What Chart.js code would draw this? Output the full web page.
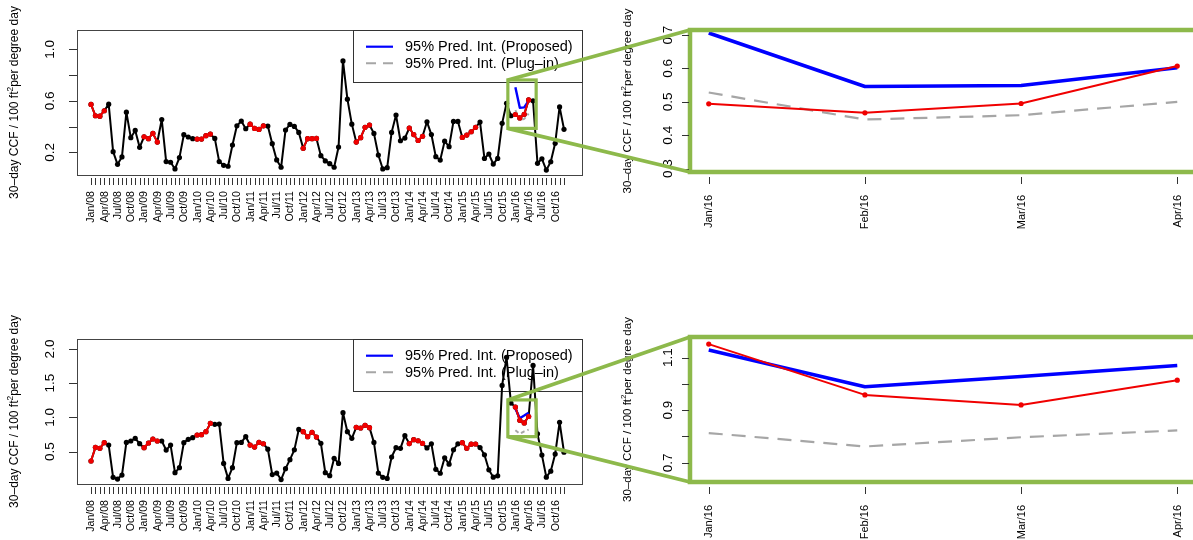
<!DOCTYPE html>
<html><head><meta charset="utf-8">
<script src="https://cdn.jsdelivr.net/npm/chart.js@4/dist/chart.umd.min.js"></script>
<style>
html,body{margin:0;padding:0;background:#fff;overflow:hidden;}
#wrap{position:relative;width:1193px;height:540px;overflow:hidden;background:#fff;}
canvas{position:absolute;}
</style></head><body>
<div id="wrap">
<canvas id="c1" width="600" height="300" style="left:0px;top:0px"></canvas>
<canvas id="c2" width="620" height="300" style="left:590px;top:0px"></canvas>
<canvas id="c3" width="600" height="240" style="left:0px;top:300px"></canvas>
<canvas id="c4" width="620" height="240" style="left:590px;top:300px"></canvas>
<canvas id="ov" width="1193" height="540" style="left:0px;top:0px;pointer-events:none"></canvas>
</div>
<script>
// ---------------- DATA ----------------
const monthNames = ['Jan','Feb','Mar','Apr','May','Jun','Jul','Aug','Sep','Oct','Nov','Dec'];
const years = ['08','09','10','11','12','13','14','15','16'];
const months = [];
years.forEach(y => monthNames.forEach(m => months.push(m + '/' + y)));
const zoomMonths = ['Jan/16','Feb/16','Mar/16','Apr/16'];
const highlightMonths = ['Jan','Feb','Mar','Apr'];   // plotted in red
const zoomStart = 96;                                  // Jan/16

const usageTop = [
 0.572,0.484,0.481,0.523,0.574,0.205,0.107,0.164,0.512,0.314,0.370,0.239,
 0.321,0.306,0.347,0.280,0.455,0.128,0.123,0.071,0.159,0.337,0.319,0.306,
 0.303,0.303,0.329,0.342,0.308,0.128,0.099,0.092,0.257,0.406,0.443,0.383,
 0.419,0.386,0.378,0.406,0.404,0.267,0.141,0.084,0.373,0.417,0.401,0.355,
 0.231,0.306,0.306,0.308,0.174,0.133,0.112,0.084,0.241,0.910,0.613,0.419,
 0.280,0.314,0.394,0.412,0.347,0.179,0.071,0.081,0.355,0.489,0.290,0.311,
 0.389,0.338,0.292,0.325,0.437,0.338,0.166,0.140,0.287,0.244,0.440,0.440,
 0.316,0.334,0.360,0.394,0.435,0.153,0.187,0.109,0.153,0.425,0.581,0.484,
 0.494,0.467,0.495,0.607,0.600,0.115,0.150,0.062,0.127,0.270,0.553,0.379];
const usageBottom = [
 0.364,0.563,0.549,0.632,0.597,0.125,0.100,0.159,0.636,0.656,0.695,0.617,
 0.558,0.627,0.685,0.656,0.656,0.524,0.597,0.193,0.266,0.632,0.680,0.705,
 0.744,0.749,0.792,0.914,0.900,0.904,0.329,0.110,0.266,0.632,0.636,0.719,
 0.597,0.568,0.636,0.616,0.537,0.165,0.187,0.093,0.252,0.384,0.527,0.825,
 0.792,0.719,0.783,0.714,0.622,0.193,0.149,0.403,0.329,1.070,0.792,0.695,
 0.856,0.846,0.885,0.851,0.636,0.188,0.125,0.110,0.422,0.558,0.549,0.734,
 0.618,0.675,0.660,0.620,0.555,0.615,0.243,0.185,0.410,0.318,0.528,0.615,
 0.632,0.550,0.610,0.612,0.560,0.455,0.235,0.128,0.148,1.468,1.878,1.210,
 1.151,0.958,0.920,1.014,1.760,0.762,0.450,0.128,0.215,0.465,0.930,0.492];

const proposedTop = [0.706,0.546,0.549,0.602];
const pluginTop   = [0.528,0.447,0.460,0.500];
const proposedBottom = [1.129,0.989,1.028,1.070];
const pluginBottom   = [0.813,0.762,0.797,0.823];

const yTicksTL = [0.2,0.4,0.6,0.8,1.0];   const yLabelsTL = ['0.2','','0.6','','1.0'];
const yTicksBL = [0.5,1.0,1.5,2.0];       const yLabelsBL = ['0.5','1.0','1.5','2.0'];
const yTicksTR = [0.3,0.4,0.5,0.6,0.7];   const yLabelsTR = ['0.3','0.4','0.5','0.6','0.7'];
const yTicksBR = [0.7,0.8,0.9,1.0,1.1];   const yLabelsBR = ['0.7','','0.9','','1.1'];
const legendLabels = ['95% Pred. Int. (Proposed)','95% Pred. Int. (Plug\u2013in)'];
const yTitleParts = ['30\u2013day CCF / 100 ft','2','per degree day'];

// ---------------- STYLE ----------------
const FONT = '"Liberation Sans", Arial, Helvetica, sans-serif';
const GREEN = '#8DB94B';
const RED = '#F00000', BLUE = '#0000FF', GRAY = '#A6A6A6', BLACK = '#000000';

const monthIdx = months.map((_, i) => i);
const xLabelsLeft = months.map((m, i) => (i % 3 === 0 ? m : ''));
const isRed = months.map(m => highlightMonths.includes(m.split('/')[0]));

function pts(vals, xs) { return vals.map((v, i) => ({x: xs ? xs[i] : i, y: v})); }
function lineDS(data, color, width, radius, dash, order) {
  return { data, borderColor: color, backgroundColor: color, borderWidth: width,
    pointRadius: radius, pointHoverRadius: radius, pointBorderWidth: 0,
    pointBackgroundColor: color, borderDash: dash || [], spanGaps: false, order,
    tension: 0, borderJoinStyle: 'round', borderCapStyle: 'butt' };
}

const rPlot = {
  id: 'rPlot',
  beforeDatasetsDraw(chart, args, o) {
    const ctx = chart.ctx, a = chart.chartArea;
    ctx.save();
    if (o.boxColor) {
      ctx.strokeStyle = o.boxColor; ctx.lineWidth = o.boxWidth;
      ctx.strokeRect(Math.round(a.left)+0.5, Math.round(a.top)+0.5, Math.round(a.right-a.left), Math.round(a.bottom-a.top));
    }
    if (o.legend) {
      const L = a.right - 229, T = a.top, W = 229, H = 52;
      ctx.strokeStyle = '#333'; ctx.lineWidth = 1;
      ctx.strokeRect(Math.round(L)+0.5, Math.round(T)+0.5, W, H);
      const rows = [{c: BLUE, d: [], w: 2.2}, {c: GRAY, d: [10,7], w: 2}];
      ctx.font = '14.5px ' + FONT; ctx.fillStyle = '#000'; ctx.textBaseline = 'middle'; ctx.textAlign = 'left';
      rows.forEach((r, k) => {
        const y = T + 16.7 + k * 16.6;
        ctx.strokeStyle = r.c; ctx.lineWidth = r.w; ctx.setLineDash(r.d);
        ctx.beginPath(); ctx.moveTo(L + 13, y); ctx.lineTo(L + 40, y); ctx.stroke();
        ctx.setLineDash([]);
        ctx.fillText(legendLabels[k], L + 52, y + 0.5);
      });
    }
    ctx.restore();
  },
  afterDatasetsDraw(chart, args, o) {
    const ctx = chart.ctx, a = chart.chartArea, xs = chart.scales.x, ys = chart.scales.y;
    ctx.save();
    if (o.frameColor) {
      ctx.strokeStyle = o.frameColor; ctx.lineWidth = o.frameWidth;
      ctx.strokeRect(a.left, a.top, a.right - a.left, a.bottom - a.top);
    }
    ctx.strokeStyle = '#333'; ctx.lineWidth = 1; ctx.fillStyle = '#000';
    o.yTicks.forEach((v, k) => {
      const yp = ys.getPixelForValue(v), y = Math.round(yp) + 0.5;
      ctx.beginPath(); ctx.moveTo(a.left - o.yTickOut, y); ctx.lineTo(a.left - o.yTickIn, y); ctx.stroke();
      if (o.yLabels[k]) {
        ctx.save(); ctx.translate(a.left - o.yLabelDist, yp); ctx.rotate(-Math.PI / 2);
        ctx.font = o.yFont + 'px ' + FONT; ctx.textAlign = 'center'; ctx.textBaseline = 'middle';
        ctx.fillText(o.yLabels[k], 0, 0); ctx.restore();
      }
    });
    o.xTicks.forEach((v, k) => {
      const xp = xs.getPixelForValue(v), x = Math.round(xp) + 0.5;
      ctx.beginPath(); ctx.moveTo(x, a.bottom + o.xTickGap); ctx.lineTo(x, a.bottom + o.xTickGap + o.xTickLen); ctx.stroke();
      if (o.xLabels[k]) {
        ctx.save(); ctx.translate(xp, a.bottom + o.xLabelDist); ctx.rotate(-Math.PI / 2);
        ctx.font = o.xFont + 'px ' + FONT; ctx.textAlign = 'right'; ctx.textBaseline = 'middle';
        ctx.fillText(o.xLabels[k], 0, 0.5); ctx.restore();
      }
    });
    // y title with superscript
    const f1 = o.titleFont + 'px ' + FONT, f2 = (o.titleFont * 0.7) + 'px ' + FONT;
    ctx.font = f1; const w1 = ctx.measureText(yTitleParts[0]).width, w3 = ctx.measureText(yTitleParts[2]).width;
    ctx.font = f2; const w2 = ctx.measureText(yTitleParts[1]).width;
    const tot = w1 + w2 + w3;
    ctx.save(); ctx.translate(o.titleX, (a.top + a.bottom) / 2); ctx.rotate(-Math.PI / 2);
    ctx.textAlign = 'left'; ctx.textBaseline = 'middle';
    let x0 = -tot / 2;
    ctx.font = f1; ctx.fillText(yTitleParts[0], x0, 0); x0 += w1;
    ctx.font = f2; ctx.fillText(yTitleParts[1], x0, -o.titleFont * 0.4); x0 += w2;
    ctx.font = f1; ctx.fillText(yTitleParts[2], x0, 0);
    ctx.restore();
    ctx.restore();
  }
};

function makeChart(id, datasets, pad, xr, yr, plot) {
  return new Chart(document.getElementById(id), {
    type: 'line',
    data: { datasets },
    options: {
      responsive: false, animation: false, devicePixelRatio: 1, events: [],
      layout: { padding: pad },
      scales: {
        x: { type: 'linear', display: false, min: xr[0], max: xr[1] },
        y: { type: 'linear', display: false, min: yr[0], max: yr[1] }
      },
      plugins: { legend: { display: false }, tooltip: { enabled: false }, rPlot: plot }
    },
    plugins: [rPlot]
  });
}

function leftDatasets(usage, proposed, plugin) {
  const zx = zoomMonths.map((_, k) => zoomStart + k);
  return [
    lineDS(pts(usage), BLACK, 2, 2.6, [], 5),
    lineDS(pts(plugin, zx), GRAY, 2, 0, [4, 3], 4),
    lineDS(pts(proposed, zx), BLUE, 2.4, 0, [], 3),
    lineDS(pts(usage.map((v, i) => (isRed[i] ? v : null))), RED, 2, 2.6, [], 1)
  ];
}
function rightDatasets(usage, proposed, plugin) {
  const red = usage.slice(zoomStart, zoomStart + zoomMonths.length);
  return [
    lineDS(pts(plugin), GRAY, 2.2, 0, [14, 9], 4),
    lineDS(pts(proposed), BLUE, 3.6, 0, [], 3),
    lineDS(pts(red), RED, 2, 2.6, [], 1)
  ];
}

const leftAxis = (yt, yl, xDist) => ({
  boxColor: '#444', boxWidth: 1, legend: true,
  yTicks: yt, yLabels: yl, yTickOut: 8, yTickIn: 0, yLabelDist: 27, yFont: 13.5,
  xTicks: monthIdx, xLabels: xLabelsLeft, xTickGap: 3, xTickLen: 7, xLabelDist: xDist, xFont: 10.6,
  titleX: 15, titleFont: 12
});
const rightAxis = (yt, yl, xDist) => ({
  frameColor: GREEN, frameWidth: 4.5,
  yTicks: yt, yLabels: yl, yTickOut: 8, yTickIn: 1, yLabelDist: 22, yFont: 13.5,
  xTicks: zoomMonths.map((_, k) => k), xLabels: zoomMonths, xTickGap: 5, xTickLen: 7, xLabelDist: 23, xFont: 11,
  titleX: 38, titleFont: 11.5
});

const xRangeLeft = [-3.17, 111.07];
const xRangeRight = [-0.12, 3.12];

const ch1 = makeChart('c1', leftDatasets(usageTop, proposedTop, pluginTop),
  {left: 77, right: 18, top: 30, bottom: 125}, xRangeLeft, [0.024, 1.150], leftAxis(yTicksTL, yLabelsTL, 16));
const ch2 = makeChart('c2', rightDatasets(usageTop, proposedTop, pluginTop),
  {left: 100, right: 14, top: 30, bottom: 128}, xRangeRight, [0.290, 0.715], rightAxis(yTicksTR, yLabelsTR));
const ch3 = makeChart('c3', leftDatasets(usageBottom, proposedBottom, pluginBottom),
  {left: 77, right: 18, top: 39, bottom: 56}, xRangeLeft, [0.028, 2.146], leftAxis(yTicksBL, yLabelsBL, 16));
const ch4 = makeChart('c4', rightDatasets(usageBottom, proposedBottom, pluginBottom),
  {left: 100, right: 14, top: 37, bottom: 58}, xRangeRight, [0.627, 1.178], rightAxis(yTicksBR, yLabelsBR));

// ---------------- ZOOM CONNECTORS ----------------
function connect(left, loff, right, roff, box) {
  const ctx = document.getElementById('ov').getContext('2d');
  const xs = left.scales.x, ys = left.scales.y;
  const x0 = loff[0] + xs.getPixelForValue(box.x0), x1 = loff[0] + xs.getPixelForValue(box.x1);
  const yT = loff[1] + ys.getPixelForValue(box.y1), yB = loff[1] + ys.getPixelForValue(box.y0);
  const ra = right.chartArea;
  ctx.save();
  ctx.strokeStyle = GREEN; ctx.lineWidth = 3.2;
  ctx.strokeRect(x0, yT, x1 - x0, yB - yT);
  ctx.lineWidth = 3.8; ctx.lineCap = 'butt';
  ctx.beginPath(); ctx.moveTo(x0, yT); ctx.lineTo(roff[0] + ra.left, roff[1] + ra.top); ctx.stroke();
  ctx.beginPath(); ctx.moveTo(x0, yB); ctx.lineTo(roff[0] + ra.left, roff[1] + ra.bottom); ctx.stroke();
  ctx.restore();
}
connect(ch1, [0, 0], ch2, [590, 0], {x0: 94.3, x1: 100.7, y0: 0.386, y1: 0.762});
connect(ch3, [0, 300], ch4, [590, 300], {x0: 94.3, x1: 100.7, y0: 0.720, y1: 1.256});
</script>
</body></html>
